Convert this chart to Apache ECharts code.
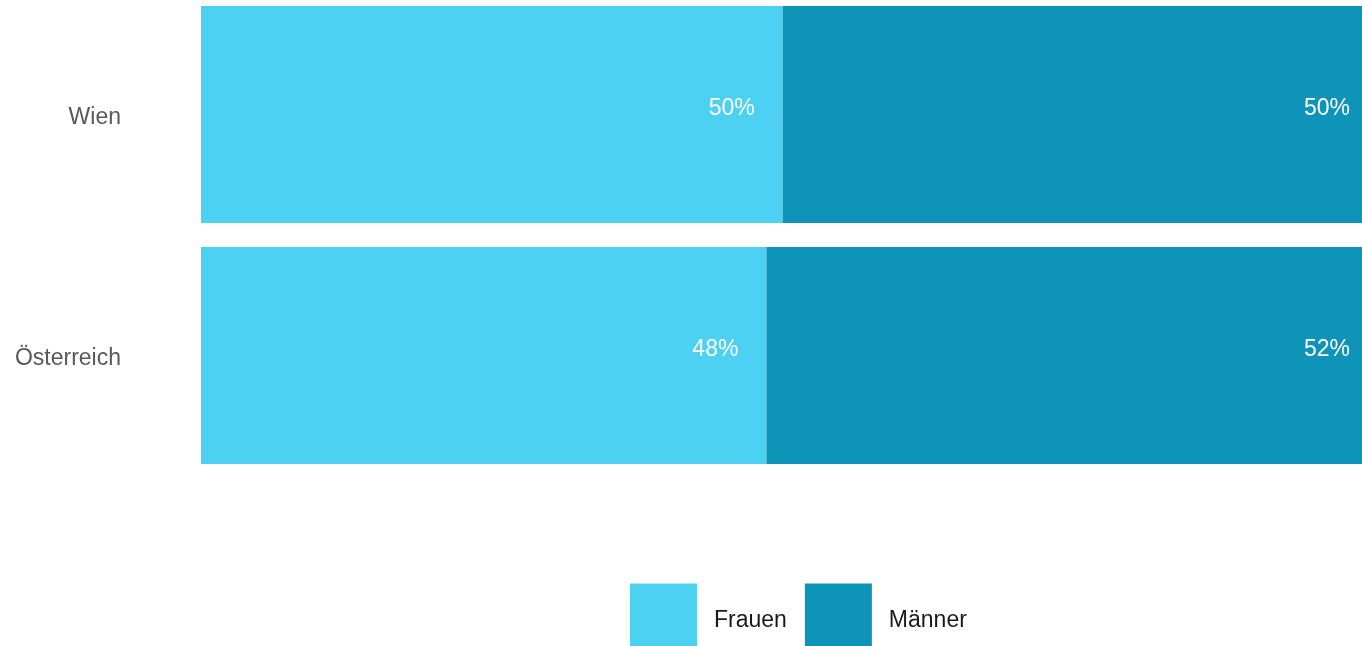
<!DOCTYPE html>
<html>
<head>
<meta charset="utf-8">
<script src="https://cdn.jsdelivr.net/npm/echarts@6/dist/echarts.min.js"></script>
<style>
html,body{margin:0;padding:0;background:#fff;}
#chart{width:1362px;height:646px;}
</style>
</head>
<body>
<div id="chart"></div>
<script>
// Data
const categories = ['Wien', 'Österreich'];
const seriesNames = ['Frauen', 'Männer'];
const frauenValues = [50.1, 48.7];   // bar lengths
const maennerValues = [49.9, 51.3];
const frauenLabels = ['50%', '48%']; // printed labels
const maennerLabels = ['50%', '52%'];

const chart = echarts.init(document.getElementById('chart'), null, {renderer: 'canvas'});
const font = 'Arial, "Liberation Sans", sans-serif';

chart.setOption({
  backgroundColor: '#ffffff',
  animation: false,
  grid: { left: 201, right: 0, top: -6, height: 482, containLabel: false, outerBoundsMode: 'none' },
  legend: {
    data: seriesNames,
    left: 625,
    top: 578.5,
    itemWidth: 67,
    itemHeight: 67,
    itemGap: 18,
    icon: 'rect',
    formatter: name => '{t|' + name + '}',
    textStyle: {
      fontFamily: font, fontSize: 23, color: '#1a1a1a',
      rich: { t: { fontFamily: font, fontSize: 23, color: '#1a1a1a', padding: [8, 0, 0, 12] } }
    }
  },
  xAxis: {
    type: 'value', min: 0, max: 100, show: false
  },
  yAxis: {
    type: 'category',
    data: categories,
    inverse: true,
    axisLine: { show: false },
    axisTick: { show: false },
    splitLine: { show: false },
    axisLabel: {
      fontFamily: font, fontSize: 23, color: '#595959', margin: 80,
      formatter: v => '{t|' + v + '}',
      rich: { t: { fontFamily: font, fontSize: 23, color: '#595959', padding: [6, 0, 0, 0] } }
    }
  },
  series: [
    {
      name: seriesNames[0], type: 'bar', stack: 'total',
      data: frauenValues, barWidth: 217,
      itemStyle: { color: '#4dd1f2' },
      label: {
        show: true, position: 'insideRight', distance: 28, offset: [0, -6],
        color: '#ffffff', fontFamily: font, fontSize: 23,
        formatter: p => frauenLabels[p.dataIndex]
      }
    },
    {
      name: seriesNames[1], type: 'bar', stack: 'total',
      data: maennerValues, barWidth: 217,
      itemStyle: { color: '#0e94b9' },
      label: {
        show: true, position: 'insideRight', distance: 12, offset: [0, -6],
        color: '#ffffff', fontFamily: font, fontSize: 23,
        formatter: p => maennerLabels[p.dataIndex]
      }
    }
  ]
});
</script>
</body>
</html>
